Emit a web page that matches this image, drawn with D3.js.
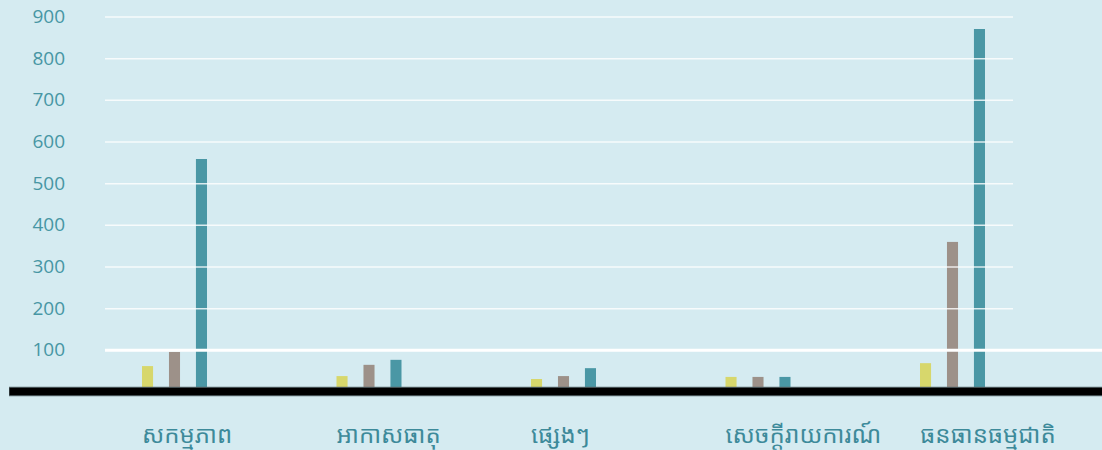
<!DOCTYPE html>
<html>
<head>
<meta charset="utf-8">
<script src="https://cdn.jsdelivr.net/npm/d3@7"></script>
<style>
  body { margin: 0; background: #d5ebf1; }
  svg { display: block; }
  .tick text { fill: #4796a4; font-family: "Open Sans", sans-serif; font-size: 19px; font-weight: 500; }
  .cat-label { fill: #3d8a9a; font-family: "Khmer OS", "Noto Sans Khmer", "Noto Serif Khmer", sans-serif; font-size: 24px; }
</style>
</head>
<body>
<div id="chart"></div>
<script>
// categories (Khmer)
var categories = ['សកម្មភាព', 'អាកាសធាតុ', 'ផ្សេងៗ', 'សេចក្ដីរាយការណ៍', 'ធនធានធម្មជាតិ'];
// three series, values
var seriesNames = ['s1', 's2', 's3'];
var series1 = [61, 37, 30, 35, 68];
var series2 = [95, 64, 37, 35, 359];
var series3 = [558, 76, 56, 35, 870];
var tickValues = [100, 200, 300, 400, 500, 600, 700, 800, 900];
var colors = ['#d7d76c', '#9d9189', '#4a97a5'];

var width = 1102, height = 450;

var svg = d3.select('#chart')
  .append('svg')
  .attr('width', width)
  .attr('height', height);

// y scale: 0 sits on the thick black baseline
var y = d3.scaleLinear().domain([0, 900]).range([391.5, 16.5]);

// group position, then bars inside a group
var x0 = d3.scaleBand().domain(categories).range([142, 1114.5]).padding(0);
var x1 = d3.scaleBand().domain(seriesNames).range([0, 65]).paddingInner(0.59).paddingOuter(0);

var data = categories.map(function(c, i) {
  return { cat: c, values: [series1[i], series2[i], series3[i]] };
});

// bars
var groups = svg.selectAll('.group')
  .data(data)
  .enter().append('g')
  .attr('class', 'group')
  .attr('transform', function(d) { return 'translate(' + x0(d.cat) + ',0)'; });

groups.selectAll('rect')
  .data(function(d) {
    return d.values.map(function(v, j) { return { key: seriesNames[j], value: v, j: j }; });
  })
  .enter().append('rect')
  .attr('x', function(d) { return x1(d.key); })
  .attr('y', function(d) { return y(d.value); })
  .attr('width', x1.bandwidth())
  .attr('height', function(d) { return y(0) - y(d.value); })
  .attr('fill', function(d) { return colors[d.j]; });

// gridlines + tick labels, drawn over the bars
var axis = svg.append('g')
  .attr('transform', 'translate(105,0)')
  .call(d3.axisLeft(y).tickValues(tickValues).tickSize(-(1013 - 105)).tickPadding(40));

axis.select('.domain').remove();
axis.selectAll('.tick line')
  .attr('stroke', '#fff')
  .attr('stroke-opacity', 0.8)
  .attr('stroke-width', 1.5);

// the 100 line is heavier and runs to the right edge
axis.selectAll('.tick')
  .filter(function(d) { return d === 100; })
  .select('line')
  .attr('x2', width - 105)
  .attr('stroke-opacity', 1)
  .attr('stroke-width', 3);

// thick black baseline
svg.append('line')
  .attr('x1', 9).attr('x2', width)
  .attr('y1', y(0)).attr('y2', y(0))
  .attr('stroke', '#5a6a6e')
  .attr('stroke-width', 9.5);
svg.append('line')
  .attr('x1', 9.5).attr('x2', width)
  .attr('y1', y(0)).attr('y2', y(0))
  .attr('stroke', '#000')
  .attr('stroke-width', 7.5);

// category labels, left aligned with the first bar
svg.selectAll('.cat-label')
  .data(categories)
  .enter().append('text')
  .attr('class', 'cat-label')
  .attr('x', function(d) { return x0(d) + x1(seriesNames[0]); })
  .attr('y', 443)
  .text(function(d) { return d; });
</script>
</body>
</html>
